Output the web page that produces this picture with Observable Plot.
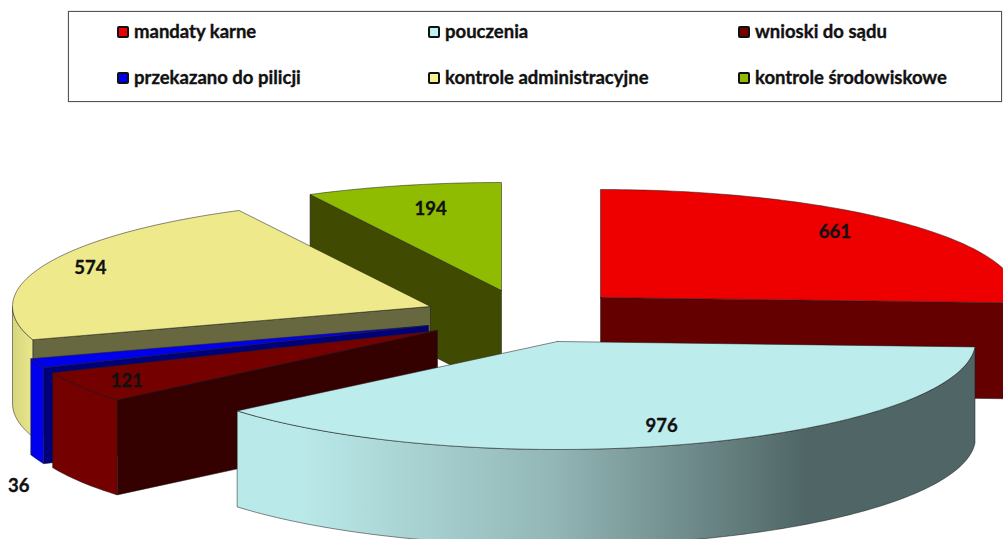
<!DOCTYPE html>
<html><head><meta charset="utf-8">
<script src="https://cdn.jsdelivr.net/npm/d3@7"></script>
<script src="https://cdn.jsdelivr.net/npm/@observablehq/plot@0.6"></script>
<style>
html,body{margin:0;padding:0;background:#fff;overflow:hidden;width:1003px;height:539px}
#legend{position:relative;height:105px;font:bold 18.5px Lato,Carlito,sans-serif;color:#111;-webkit-text-stroke:0.35px #111}
#box{position:absolute;left:68px;top:11px;width:932px;height:89px;border:1px solid #555;box-shadow:0 0 1px #888}
.item{position:absolute;white-space:nowrap;line-height:20px}
.sw{position:absolute;left:0;top:4px;width:8px;height:8px;border:2px solid #111;border-radius:2px}
.item span.t{position:absolute;left:17px;top:-1px}
svg{display:block}
</style></head><body>
<div id="legend"><div id="box"></div></div>
<div id="chart"></div>
<script>
const categories = ["mandaty karne","pouczenia","wnioski do sądu","przekazano do pilicji","kontrole administracyjne","kontrole środowiskowe"];
const values = [661,976,121,36,574,194];
const faceColors = ["#ee0000","#bcecec","#750000","#0000ee","#eeea8c","#8fbc00"];
const legendColors = ["#ee0000","#bff2f2","#750000","#0000ee","#f5f090","#8fbc00"];
const cutColors = ["#640000","#506666","#350000","#00007a","#686840","#404a00"];
const wallColors = ["#640000","url(#wallBlue)","#750000","#0000ee","url(#wallYellow)","#404a00"];
// exploded 3-D layout, in page pixels
const centres = [[600,297],[557,341],[437,330],[428,325],[430,306],[501,290]];
const depths = [96,96,95,96,97,100];
const rx = 418, ry = 108;
const labelRadius = [0.82,0.82,0.875,1,0.88,0.78];
const labelNudge = [[-14,-4],[-5,1],[1,1],[-18,123],[0,-2],[6,0]];
const paintOrder = [5,0,4,3,2,1];

const arcs = d3.pie().sort(null)(values);
const pt = (i,a,r=1,dz=0) => ({x:centres[i][0]+rx*r*Math.sin(a), y:centres[i][1]-ry*r*Math.cos(a)+dz});
const sweep = (i,a0,a1,dz=0) => {
  const n = Math.max(1,Math.ceil(Math.abs(a1-a0)/(Math.PI/180)));
  return d3.range(n+1).map(k => pt(i,a0+(a1-a0)*k/n,1,dz));
};
const poly = (pts,fill,sw=0.7) => Plot.line([...pts,pts[0]],{x:"x",y:"y",fill,stroke:"#1c1c1c",strokeWidth:sw,strokeOpacity:0.75,curve:"linear"});
const cut = (i,a) => poly([pt(i,a,0),pt(i,a),pt(i,a,1,depths[i]),pt(i,a,0,depths[i])],cutColors[i]);

const marks = [() => {
  const defs = d3.create("svg:defs");
  const grad = (id,x1,x2,stops) => {
    const g = defs.append("linearGradient").attr("id",id).attr("gradientUnits","userSpaceOnUse")
      .attr("x1",x1).attr("x2",x2).attr("y1",0).attr("y2",0);
    stops.forEach(([o,c]) => g.append("stop").attr("offset",o).attr("stop-color",c));
  };
  grad("wallBlue",300,805,[[0,"#bae9e9"],[0.5,"#93b6b6"],[1,"#506666"]]);
  grad("wallYellow",12,34,[[0,"#d6d67e"],[1,"#ebe88c"]]);
  return defs.node();
}];

for (const i of paintOrder) {
  const a0 = arcs[i].startAngle, a1 = arcs[i].endAngle;
  if (a0 > Math.PI) marks.push(cut(i,a0));
  if (a1 < Math.PI) marks.push(cut(i,a1));
  const w0 = Math.max(a0,Math.PI/2), w1 = Math.min(a1,3*Math.PI/2);
  if (w1 > w0) marks.push(poly([...sweep(i,w0,w1),...sweep(i,w1,w0,depths[i])],wallColors[i]));
  marks.push(poly([pt(i,a0,0),...sweep(i,a0,a1)],faceColors[i]));
}

const labels = values.map((v,i) => {
  const p = pt(i,(arcs[i].startAngle+arcs[i].endAngle)/2,labelRadius[i]);
  return {text:String(v), x:p.x+labelNudge[i][0], y:p.y+labelNudge[i][1]};
});
marks.push(Plot.text(labels,{x:"x",y:"y",text:"text",fontSize:18.5,fontWeight:"bold",fontFamily:"Lato, sans-serif",fill:"#111",stroke:"#111",strokeWidth:0.35}));

document.getElementById("chart").append(Plot.plot({
  width:1003,height:434,margin:0,
  x:{domain:[0,1003],range:[0,1003],axis:null},
  y:{domain:[105,539],range:[0,434],axis:null},
  style:{overflow:"hidden",background:"transparent"},
  marks
}));

const legend = document.getElementById("legend");
const colX = [117,428,738], rowY = [22,68];
categories.forEach((c,i) => {
  const it = document.createElement("div");
  it.className = "item";
  it.style.left = colX[i%3]+"px";
  it.style.top = rowY[Math.floor(i/3)]+"px";
  const sw = document.createElement("div");
  sw.className = "sw"; sw.style.background = legendColors[i];
  const t = document.createElement("span");
  t.className = "t"; t.textContent = c;
  it.append(sw,t); legend.append(it);
});
</script>
</body></html>
